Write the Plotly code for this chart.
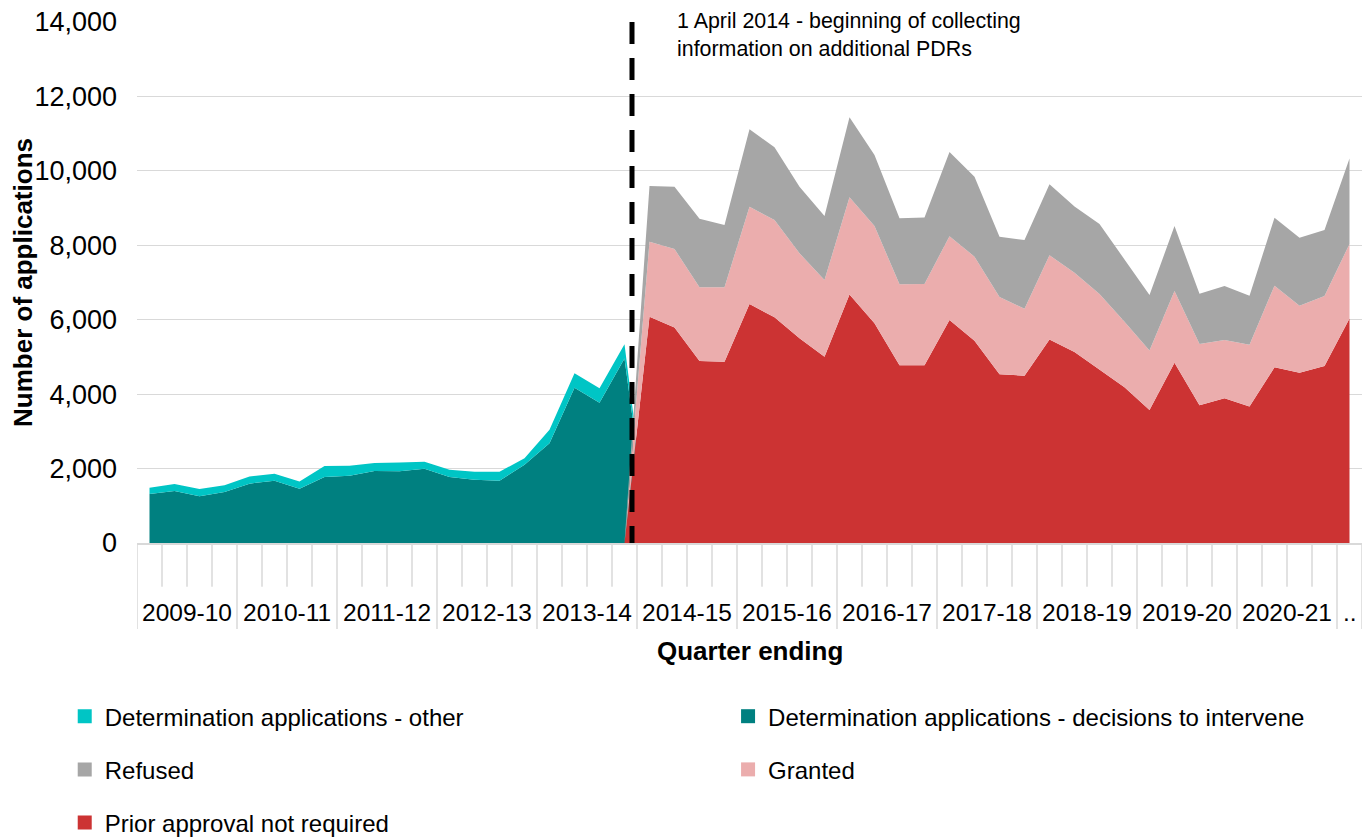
import plotly.graph_objects as go

# ---------------- data ----------------
fin_years = ["2009-10", "2010-11", "2011-12", "2012-13", "2013-14", "2014-15",
             "2015-16", "2016-17", "2017-18", "2018-19", "2019-20", "2020-21", ".."]

quarters = []
for fy in fin_years[:-1]:
    s = int(fy[:4])
    quarters += [f"Jun {s}", f"Sep {s}", f"Dec {s}", f"Mar {s + 1}"]
quarters.append("Jun 2021")

# 2009-10 Q1 .. 2013-14 Q4
det_intervene = [1315, 1395, 1255, 1370, 1595, 1675, 1460, 1775, 1810, 1935,
                 1925, 1995, 1775, 1700, 1675, 2105, 2680, 4175, 3770, 4960]
det_other = [170, 190, 195, 180, 190, 185, 195, 295, 265, 215,
             235, 190, 190, 215, 240, 170, 360, 385, 385, 380]

# 2014-15 Q1 .. 2021-22 Q1
prior_not_required = [6080, 5790, 4890, 4870, 6420, 6065, 5500, 5005, 6680, 5905,
                      4775, 4775, 5990, 5435, 4535, 4495, 5470, 5130, 4665, 4185,
                      3575, 4845, 3700, 3890, 3665, 4720, 4575, 4755, 6035]
granted = [2015, 2110, 1980, 2000, 2615, 2615, 2285, 2060, 2610, 2615,
           2175, 2185, 2255, 2260, 2075, 1800, 2265, 2135, 2025, 1760,
           1595, 1925, 1650, 1565, 1665, 2195, 1800, 1880, 2000]
refused = [1500, 1675, 1845, 1675, 2085, 1955, 1790, 1720, 2150, 1905,
           1775, 1790, 2265, 2150, 1620, 1845, 1905, 1775, 1880, 1675,
           1495, 1745, 1345, 1450, 1315, 1825, 1825, 1775, 2300]

names = {
    "other": "Determination applications - other",
    "interv": "Determination applications - decisions to intervene",
    "refused": "Refused",
    "granted": "Granted",
    "prior": "Prior approval not required",
}
colors = {
    "other": "#00C5C5",
    "interv": "#008080",
    "refused": "#A6A6A6",
    "granted": "#EBADAD",
    "prior": "#CC3333",
}

FONT = "Liberation Sans, Arial, sans-serif"

n_teal = len(det_intervene)
x_teal = quarters[:n_teal + 1]
x_red = quarters[n_teal - 1:]

fig = go.Figure()

# pre-2014 group (stacked)
for key, vals in [("interv", det_intervene), ("other", det_other)]:
    fig.add_trace(go.Scatter(
        x=x_teal, y=vals + [0], mode="lines", stackgroup="pre",
        line=dict(width=0, color=colors[key]), fillcolor=colors[key],
        name=names[key], showlegend=False, hoverinfo="x+y+name"))

# post-2014 group (stacked)
for key, vals in [("prior", prior_not_required), ("granted", granted), ("refused", refused)]:
    fig.add_trace(go.Scatter(
        x=x_red, y=[0] + vals, mode="lines", stackgroup="post",
        line=dict(width=0, color=colors[key]), fillcolor=colors[key],
        name=names[key], showlegend=False, hoverinfo="x+y+name"))

# legend entries (square swatches)
legend_cols = [("legend", ["other", "refused", "prior"]),
               ("legend2", ["interv", "granted"])]
for leg, keys in legend_cols:
    for key in keys:
        fig.add_trace(go.Scatter(
            x=[None], y=[None], mode="markers",
            marker=dict(symbol="square", size=14, color=colors[key]),
            name=names[key], legend=leg, legendgroup=key, showlegend=True))

# ---------------- layout ----------------
shapes = []
n_q = len(quarters)
for k in range(n_q + 1):
    is_year = (k % 4 == 0) or k == n_q
    shapes.append(dict(type="line", xref="x", yref="paper",
                       x0=k - 0.5, x1=k - 0.5, y0=0,
                       y1=-0.165 if is_year else -0.084,
                       line=dict(color="#D9D9D9", width=1.5), layer="below"))
# dashed marker for 1 April 2014 (drawn from the top down)
shapes.append(dict(type="line", xref="x", yref="paper",
                   x0=n_teal - 0.7, x1=n_teal - 0.7, y0=1, y1=0,
                   line=dict(color="black", width=5, dash="22px,14px")))

annotations = []
for i, fy in enumerate(fin_years):
    cx = i * 4 + 1.5 if fy != ".." else n_q - 1
    annotations.append(dict(x=cx, y=-0.134, xref="x", yref="paper", text=fy,
                            showarrow=False, xanchor="center", yanchor="middle",
                            font=dict(family=FONT, size=24.5, color="black")))
annotations.append(dict(x=0.5, y=-0.207, xref="paper", yref="paper",
                        text="<b>Quarter ending</b>", showarrow=False,
                        xanchor="center", yanchor="middle",
                        font=dict(family=FONT, size=26, color="black")))
annotations.append(dict(x=n_teal + 1.0, y=1.0296, xref="x", yref="paper",
                        text="1 April 2014 - beginning of collecting<br>information on additional PDRs",
                        showarrow=False, xanchor="left", yanchor="top", align="left",
                        font=dict(family=FONT, size=21.4, color="black")))

# page body has an 8px margin, so the figure is sized to fit the window
fig.update_layout(
    width=1362, height=829,
    margin=dict(l=129, r=8, t=14, b=294, autoexpand=False),
    paper_bgcolor="white", plot_bgcolor="white",
    font=dict(family=FONT, color="black"),
    xaxis=dict(type="category", categoryorder="array", categoryarray=quarters,
               range=[-0.5, n_q - 0.5], showticklabels=False, showgrid=False,
               ticks="", showline=True, linecolor="#D9D9D9", linewidth=1.5,
               zeroline=False, fixedrange=True, automargin=False),
    yaxis=dict(range=[0, 14000], dtick=2000, tickformat=",", showgrid=True,
               gridcolor="#D9D9D9", gridwidth=1.3, zeroline=False, showline=False,
               ticks="", ticklabelstandoff=19, automargin=False,
               ticklabeloverflow="allow",
               tickfont=dict(family=FONT, size=27, color="black"),
               title=dict(text="<b>Number of applications</b>", standoff=16,
                          font=dict(family=FONT, size=26, color="black")),
               fixedrange=True),
    shapes=shapes,
    annotations=annotations,
    legend=dict(x=-0.059, y=-0.29, xanchor="left", yanchor="top",
                orientation="v", traceorder="grouped", tracegroupgap=19,
                maxheight=400,
                font=dict(family=FONT, size=24, color="black"),
                bgcolor="rgba(0,0,0,0)"),
    legend2=dict(x=0.4825, y=-0.29, xanchor="left", yanchor="top",
                 orientation="v", traceorder="grouped", tracegroupgap=19,
                 maxheight=400,
                 font=dict(family=FONT, size=24, color="black"),
                 bgcolor="rgba(0,0,0,0)"),
)

fig.write_html("out.html")
